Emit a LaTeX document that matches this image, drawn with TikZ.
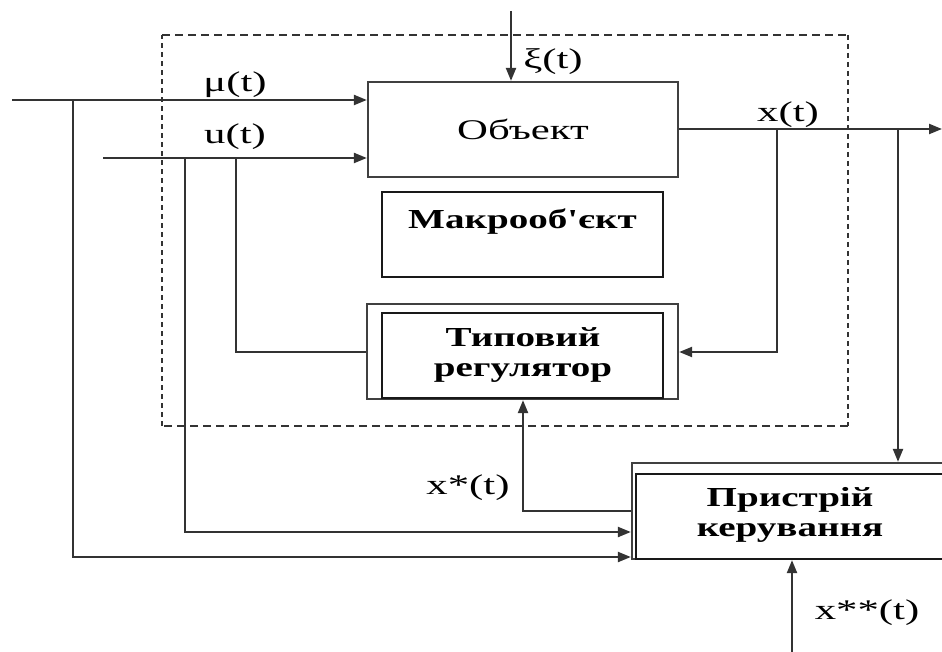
\documentclass[tikz,border=0pt]{standalone}
\usepackage{fontspec}
\setmainfont{Liberation Serif}
\newfontfamily\wfont[FakeStretch=1.5,Ligatures=TeXOff]{Liberation Serif}
\newfontfamily\wbfont[FakeStretch=1.42,Ligatures=TeXOff]{Liberation Serif}
\usetikzlibrary{arrows.meta}
\begin{document}
\begin{tikzpicture}[x=1pt,y=-1pt,
  ln/.style={line width=2.2pt, draw=black!80},
  arr/.style={ln, -{Triangle[length=13pt,width=10pt]}},
  box/.style={draw=black!75, line width=2.3pt, rectangle, inner sep=0pt},
  thinbox/.style={draw=black!90, line width=1.3pt, rectangle, inner sep=0pt},
  lbl/.style={font=\wfont\fontsize{28.5}{30}\selectfont, inner sep=0pt},
  btxt/.style={font=\wbfont\bfseries\fontsize{27.5}{30}\selectfont, align=center, inner sep=0pt},
  dshh/.style={line width=1.8pt, draw=black!80, dash pattern=on 8pt off 5pt},
  dshv/.style={line width=1.8pt, draw=black!80, dash pattern=on 5pt off 4pt}]
\useasboundingbox (0,0) rectangle (942,652);
\clip (0,0) rectangle (942,652);
% macro-object dashed frame
\draw[dshh] (162,35) -- (848,35);
\draw[dshv] (848,35) -- (848,426);
\draw[dshh] (848,426) -- (162,426);
\draw[dshv] (162,426) -- (162,35);
% blocks
\node[box, minimum width=310pt, minimum height=95pt, font=\wfont\fontsize{28.5}{30}\selectfont] (obj) at (523,129.5) {Объект};
\node[thinbox, minimum width=281pt, minimum height=85pt] (macro) at (522.5,234.5) {};
\node[btxt] (macrot) at (522.5,222) {Макрооб'єкт};
\node[box, minimum width=311pt, minimum height=95pt] (reg) at (522.5,351.5) {};
\node[thinbox, minimum width=281pt, minimum height=85pt] (regin) at (522.5,355.5) {};
\node[btxt] (regt) at (523,355) {Типовий\\регулятор};
\node[box, minimum width=330pt, minimum height=96pt] (dev) at (797,511) {};
\node[thinbox, minimum width=326pt, minimum height=85pt] (devin) at (799,516.5) {};
\node[btxt] (devt) at (790,515) {Пристрій\\керування};
% connectors
\coordinate (xi0) at (511,11);
\draw[arr] (xi0) -- (xi0 |- obj.north);
\coordinate (mu0) at (12,100);
\draw[arr] (mu0) -- (mu0 -| obj.west);
\coordinate (u0) at (103,158);
\draw[arr] (u0) -- (u0 -| obj.west);
\coordinate (b1) at (73,100);
\coordinate (b1d) at (73,557);
\draw[arr] (b1) -- (b1d) -- (b1d -| dev.west);
\coordinate (b2) at (185,158);
\coordinate (b2d) at (185,532);
\draw[arr] (b2) -- (b2d) -- (b2d -| dev.west);
\coordinate (b3) at (236,158);
\coordinate (b3d) at (236,352);
\draw[ln] (b3) -- (b3d) -- (b3d -| reg.west);
\coordinate (xe) at (942,129);
\draw[arr] (xe -| obj.east) -- (xe);
\coordinate (b4) at (777,129);
\coordinate (b4d) at (777,352);
\draw[arr] (b4) -- (b4d) -- (b4d -| reg.east);
\coordinate (b5) at (898,129);
\draw[arr] (b5) -- (b5 |- dev.north);
\coordinate (xs) at (523,511);
\draw[arr] (xs -| dev.west) -- (xs) -- (xs |- reg.south);
\coordinate (xss) at (792,652);
\draw[arr] (xss) -- (xss |- dev.south);
% labels
\node[lbl] (lmu) at (235,85) {μ(t)};
\node[lbl] (lu) at (235,137) {u(t)};
\node[lbl] (lxi) at (553,62) {ξ(t)};
\node[lbl] (lx) at (788,115) {x(t)};
\node[lbl] (lxs) at (468,488) {x*(t)};
\node[lbl] (lxss) at (867,613) {x**(t)};
\end{tikzpicture}
\end{document}
